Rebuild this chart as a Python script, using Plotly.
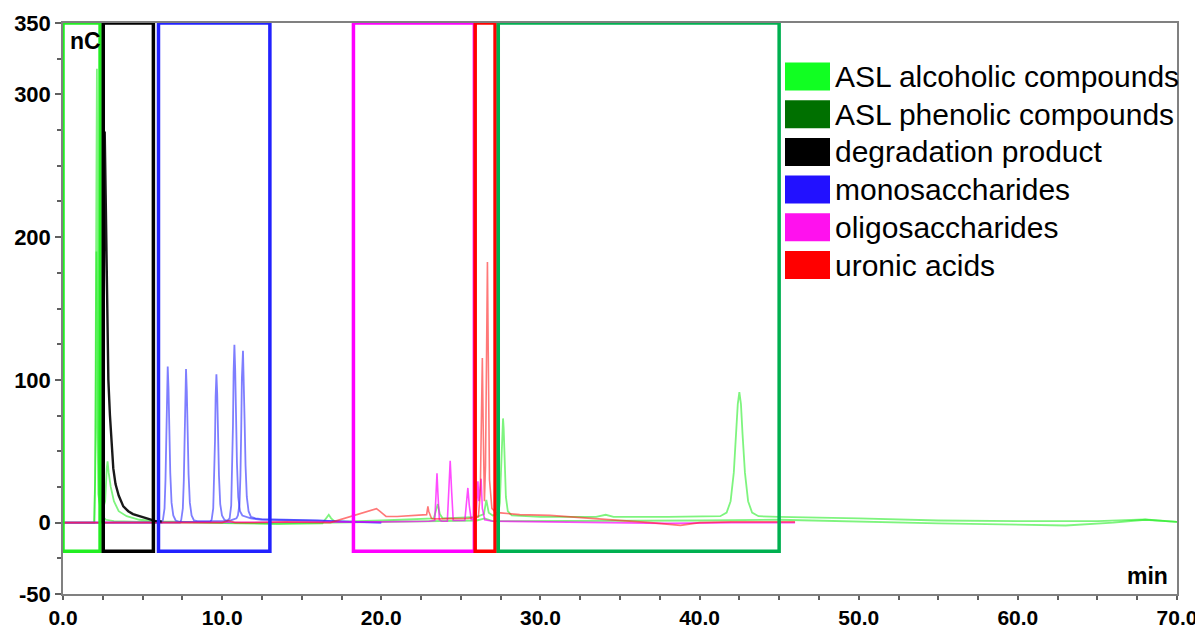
import plotly.graph_objects as go

# ---------------- data ----------------
green_a_t = [0, 1.95, 2.02, 2.08, 2.13, 2.17, 2.22, 2.3, 2.45, 2.7, 3.2, 5, 8, 12, 13.5, 16.3, 16.55, 16.7,
             16.85, 17.1, 20, 22, 23.3, 23.45, 23.55, 23.68, 23.85, 25, 26, 26.45, 26.6, 26.75, 27, 27.35,
             27.45, 27.52, 27.58, 27.62, 27.65, 27.69, 27.75, 27.83, 27.95, 28.2, 30, 33.5, 34.1, 34.6, 38,
             41.3, 41.7, 41.95, 42.15, 42.3, 42.4, 42.5, 42.6, 42.7, 42.85, 43.05, 43.3, 43.7,
             45, 50, 55, 60, 65, 68, 70]
green_a_y = [0, 0, 30, 200, 318, 200, 60, 15, 5, 2, 1, 0.5, 0, -0.5, -1, -0.5, 3, 5.5,
             3, 0.5, 1.5, 2.5, 3, 9, 13, 6, 3, 3.5, 4, 6, 16, 7, 5, 6,
             14, 35, 60, 71, 73, 66, 42, 18, 8, 5, 4, 4, 5.5, 4, 4,
             4.5, 7, 15, 35, 62, 83, 91.5, 83, 62, 35, 15, 7, 4.5,
             4, 3, 1.5, 1, 1, 2.2, 0.5]

green_b_t = [0, 1.98, 2.05, 2.1, 2.15, 2.22, 2.4, 2.65, 2.75, 2.8, 2.87, 3.0, 3.2, 3.5, 4.0, 4.8, 6, 10, 13,
             17, 20, 23, 23.5, 26, 26.5, 27, 28, 35, 40, 45, 50, 55, 63, 66, 68, 70]
green_b_y = [0, 0, 60, 190, 80, 20, 5, 15, 38, 43, 35, 25, 15, 8, 4.5, 2, 0.8, 0.3, -0.5,
             0, 0.5, 1, 1.5, 1.5, 3, 1, 1, 1, 1.5, 2, 0.5, -0.5, -2, 0, 2, 0.5]

blue_a_t = [0, 6.2, 6.28, 6.38, 6.44, 6.49, 6.53, 6.58, 6.63, 6.68, 6.74, 6.82, 6.93, 7.08, 7.3,
            9.25, 9.34, 9.44, 9.5, 9.55, 9.59, 9.64, 9.69, 9.74, 9.8, 9.88, 9.99, 10.14, 10.4,
            10.9, 10.99, 11.09, 11.15, 11.2, 11.24, 11.31, 11.36, 11.41, 11.47, 11.55, 11.66, 11.81, 12.1,
            12.5, 14, 16, 18, 20]
blue_a_y = [0, 0, 2, 10, 30, 60, 92, 109.4, 94, 65, 35, 14, 5, 1.5, 0.5,
            0.5, 2, 10, 29, 57, 88, 104, 90, 62, 33, 13, 5, 2, 1,
            3, 5, 13, 33, 66, 101, 120.4, 103, 72, 40, 18, 8, 4, 3,
            2.5, 2, 1.5, 0.5, 0]

blue_b_t = [0, 7.35, 7.43, 7.53, 7.59, 7.64, 7.68, 7.73, 7.78, 7.83, 7.89, 7.97, 8.08, 8.23, 8.45,
            10.3, 10.47, 10.57, 10.63, 10.68, 10.72, 10.77, 10.82, 10.87, 10.93, 11.01, 11.12, 11.27, 11.5,
            11.8, 12.5, 14, 16, 18, 20]
blue_b_y = [0, 0, 2, 10, 29, 59, 90, 107.6, 92, 64, 34, 14, 5, 1.5, 1,
            1, 3, 12, 34, 68, 105, 124.6, 107, 75, 42, 18, 8, 5, 4,
            3, 2, 2, 1.5, 0.5, 0]

magenta_t = [0, 18, 20, 23, 23.36, 23.44, 23.5, 23.56, 23.65, 23.8, 24.15, 24.24, 24.33, 24.42, 24.52, 25.25,
             25.35, 25.44, 25.53, 25.65, 25.95, 26.02, 26.07, 26.13, 26.2, 26.27, 26.35, 26.5, 27, 30, 34,
             38, 42, 46]
magenta_y = [0, 0, 0.5, 1, 1.5, 20, 34.5, 20, 2, 1, 1, 22, 43.4, 22, 1.5, 1.5,
             12, 24.3, 12, 2, 3, 20, 29, 15, 22, 30.8, 10, 2, 1, 0.5, 0,
             -0.5, 0, 0]

red_t = [0, 10, 10.4, 10.6, 10.8, 12, 14, 16.8, 18, 19, 19.7, 19.9, 20.3, 21, 22, 22.85, 22.93, 22.98,
         23.15, 23.3, 25.5, 26.1, 26.22, 26.3, 26.35, 26.4, 26.48, 26.55, 26.62, 26.67, 26.72, 26.8, 26.95,
         27.2, 27.5, 28.7, 30.6, 33.8, 36.9, 38.8, 40, 42, 46]
red_y = [0, 0, 1.5, 1, 0, 0, 0.5, 0, 4, 7.5, 9.8, 8, 4.4, 4.3, 5, 5.6, 11.4, 8,
         3, 2.6, 3, 4, 20, 80, 115.3, 70, 15, 40, 150, 182.5, 120, 30, 10,
         7, 6.8, 5.6, 5.1, 2.6, 0, -1.9, 0, 0.5, 0.5]

black_t = [2.42, 2.5, 2.56, 2.62, 2.68, 2.74, 2.8, 2.85, 2.95, 3.05, 3.16, 3.3, 3.5, 3.79, 4.1, 4.4,
           4.84, 5.3, 5.78, 6.2]
black_y = [0, 30, 150, 274, 230, 170, 125, 100, 75, 55, 38, 27, 19, 11.4, 8, 6,
           4.4, 2.5, 1.2, 0.8]

# region boxes: (x0, x1, y0, y1) in minutes / nC
box_names = ["ASL alcoholic", "degradation", "monosaccharides", "oligosaccharides", "uronic acids", "ASL phenolic"]
box_x0 = [0.0, 2.53, 6.0, 18.25, 25.9, 27.35]
box_x1 = [2.33, 5.68, 13.0, 25.85, 27.15, 45.0]
box_y0 = [-20, -20, -20, -20, -20, -20]
box_y1 = [350, 350, 350, 350, 350, 350]
box_colors = ["#22ee22", "#000000", "#2222ff", "#ff00ff", "#ff0000", "#00b050"]

legend_labels = ["ASL alcoholic compounds", "ASL phenolic compounds", "degradation product",
                 "monosaccharides", "oligosaccharides", "uronic acids"]
legend_colors = ["#11ff22", "#007000", "#000000", "#2211ff", "#ff11ee", "#ff0000"]

y_tickvals = [350, 300, 200, 100, 0, -50]
x_tickvals = [0, 10, 20, 30, 40, 50, 60, 70]

# ---------------- figure ----------------
# the page body has an 8px margin, so the figure is drawn 8px in from the top-left corner
OFF = 8
W, H = 1203 - OFF, 630 - OFF
L, R, T, B = 63 - OFF, 26, 23 - OFF, 36
PW, PH = W - L - R, H - T - B


def px_x(px):  # page pixel -> paper fraction
    return (px - OFF - L) / PW


def px_y(py):
    return (H - B - (py - OFF)) / PH


fig = go.Figure()

traces = [
    (green_a_t, green_a_y, "rgba(20,235,20,0.55)", 1.8),
    (green_b_t, green_b_y, "rgba(20,235,20,0.55)", 1.8),
    (blue_a_t, blue_a_y, "rgba(40,40,255,0.6)", 1.8),
    (blue_b_t, blue_b_y, "rgba(40,40,255,0.6)", 1.8),
    (magenta_t, magenta_y, "rgba(255,0,255,0.7)", 1.6),
    (red_t, red_y, "rgba(255,30,30,0.6)", 1.6),
    (black_t, black_y, "rgba(0,0,0,0.9)", 2.4),
]
for t, y, c, w in traces:
    fig.add_trace(go.Scatter(x=t, y=y, mode="lines", line=dict(color=c, width=w),
                             showlegend=False, hoverinfo="skip"))

shapes = []
for x0, x1, y0, y1, c in zip(box_x0, box_x1, box_y0, box_y1, box_colors):
    shapes.append(dict(type="rect", xref="x", yref="y", x0=x0, x1=x1, y0=y0, y1=y1,
                       line=dict(color=c, width=3.5), fillcolor="rgba(0,0,0,0)", layer="above"))

annotations = []
sq_x0, sq_x1 = 785, 830
row0, row_step, sq_h = 76.5, 37.7, 28
for i, (lab, c) in enumerate(zip(legend_labels, legend_colors)):
    cy = row0 + i * row_step
    shapes.append(dict(type="rect", xref="paper", yref="paper",
                       x0=px_x(sq_x0), x1=px_x(sq_x1), y0=px_y(cy + sq_h / 2), y1=px_y(cy - sq_h / 2),
                       line=dict(width=0), fillcolor=c, layer="above"))
    annotations.append(dict(xref="paper", yref="paper", x=px_x(833), y=px_y(cy), text=lab,
                            showarrow=False, xanchor="left", yanchor="middle",
                            font=dict(family="Liberation Sans", size=30, color="black")))

annotations.append(dict(xref="paper", yref="paper", x=px_x(68), y=px_y(41), text="<b>nC</b>",
                        showarrow=False, xanchor="left", yanchor="middle",
                        font=dict(family="Liberation Sans", size=23, color="black")))
annotations.append(dict(xref="paper", yref="paper", x=px_x(1170), y=px_y(576), text="<b>min</b>",
                        showarrow=False, xanchor="right", yanchor="middle",
                        font=dict(family="Liberation Sans", size=23, color="black")))

ytickfont = dict(family="Liberation Sans", size=22, color="black", weight="bold")
xtickfont = dict(family="Liberation Sans", size=21, color="black", weight="bold")

fig.update_layout(
    width=W, height=H,
    margin=dict(l=L, r=R, t=T, b=B, pad=0, autoexpand=False),
    paper_bgcolor="white", plot_bgcolor="white",
    showlegend=False,
    shapes=shapes, annotations=annotations,
    xaxis=dict(range=[0, 70], tickmode="array", tickvals=x_tickvals,
               ticktext=[f"{v:.1f}" for v in x_tickvals], automargin=False,
               showgrid=False, zeroline=False, showline=True, linecolor="#808080", linewidth=1.5,
               mirror=True, ticks="outside", ticklen=4, tickcolor="#606060", tickwidth=1.5,
               tickfont=xtickfont,
               minor=dict(tickmode="linear", tick0=0, dtick=2.5, ticks="outside", ticklen=4,
                          tickcolor="#606060", showgrid=False)),
    yaxis=dict(range=[-50, 350], tickmode="array", tickvals=y_tickvals,
               ticktext=[str(v) for v in y_tickvals], automargin=False,
               showgrid=False, zeroline=False, showline=True, linecolor="#808080", linewidth=1.5,
               mirror=True, ticks="outside", ticklen=6, tickcolor="#606060", tickwidth=1.5,
               tickfont=ytickfont,
               minor=dict(tickmode="linear", tick0=0, dtick=25, ticks="outside", ticklen=4,
                          tickcolor="#606060", showgrid=False)),
)

fig.write_html("out.html")
